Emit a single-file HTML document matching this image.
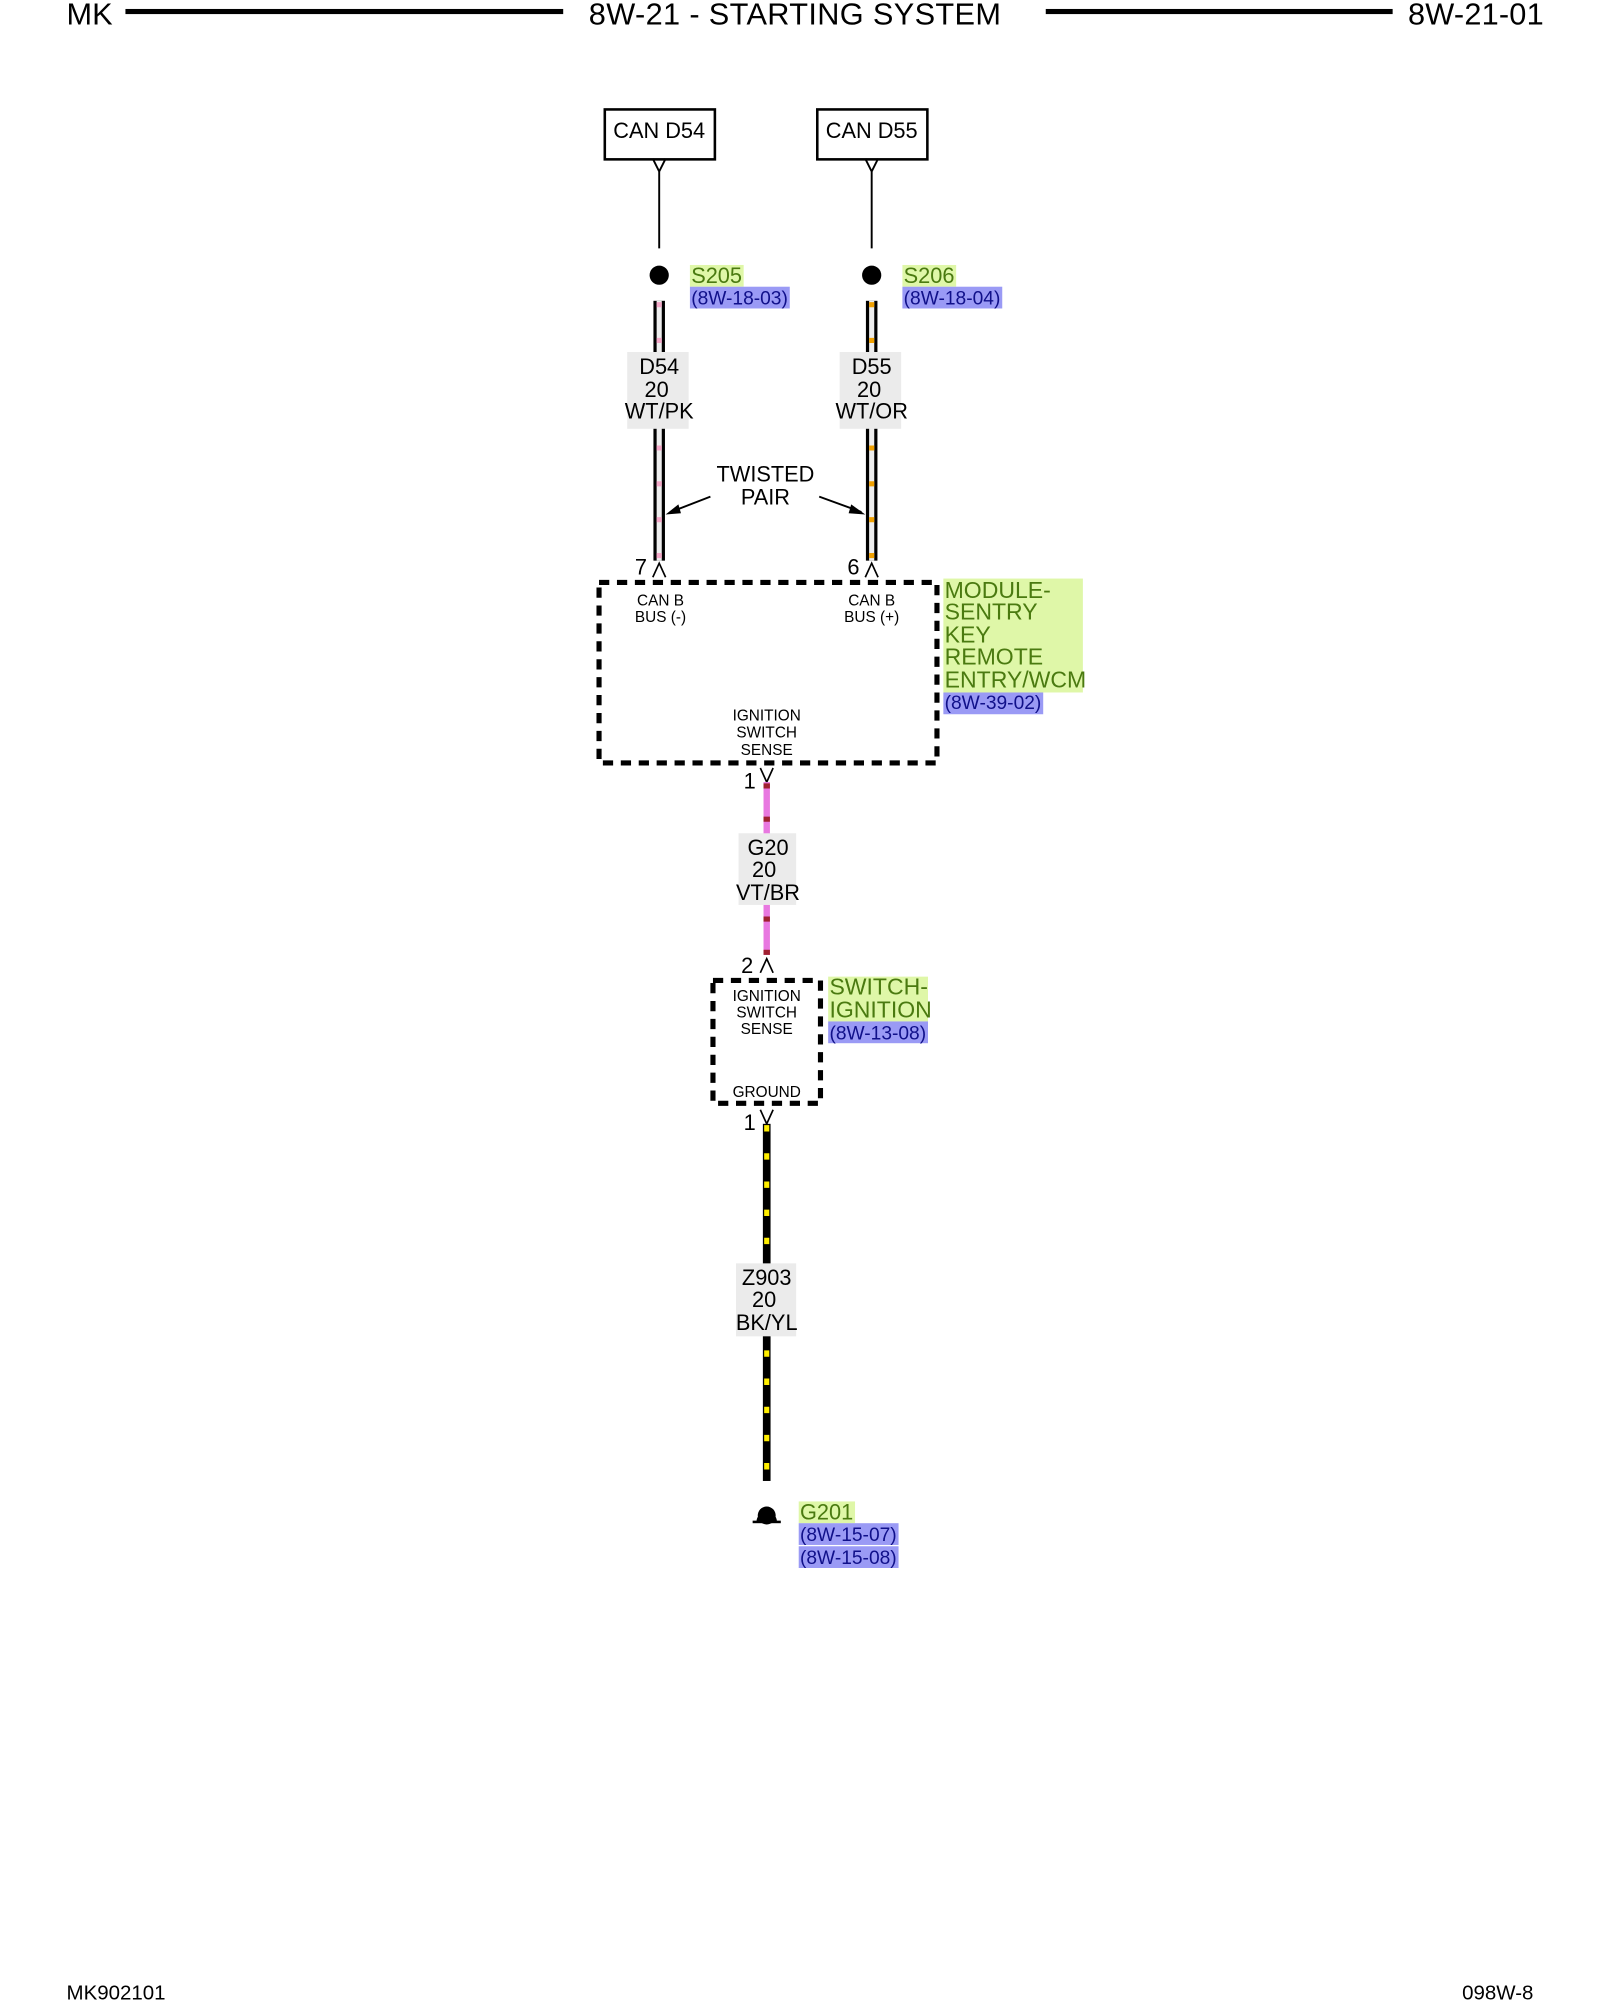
<!DOCTYPE html>
<html><head><meta charset="utf-8"><style>
html,body{margin:0;padding:0;background:#fff;}
svg{display:block;}
text{font-family:"Liberation Sans",sans-serif;}
</style></head><body>
<svg width="1600" height="2000" viewBox="0 0 1250 1562.5" xmlns="http://www.w3.org/2000/svg">
<rect width="1250" height="1562.5" fill="#fff"/>
<g font-size="24" fill="#000">
<text x="52" y="19">MK</text>
<text x="460" y="19" textLength="322">8W-21 - STARTING SYSTEM</text>
<text x="1100" y="19" textLength="106">8W-21-01</text>
</g>
<rect x="98" y="7" width="342" height="4" fill="#000"/>
<rect x="817" y="7" width="271" height="4" fill="#000"/>
<g font-size="16"><text x="52" y="1562">MK902101</text><text x="1198" y="1562" text-anchor="end">098W-8</text></g>

<rect x="472.5" y="85.5" width="86" height="39" fill="#fff" stroke="#000" stroke-width="2"/>
<text x="515" y="108" font-size="17" text-anchor="middle">CAN D54</text>
<rect x="638.5" y="85.5" width="86" height="39" fill="#fff" stroke="#000" stroke-width="2"/>
<text x="681" y="108" font-size="17" text-anchor="middle">CAN D55</text>
<g stroke="#000" stroke-width="1.5" fill="none">
<path d="M510 124 L515 134 L520 124 M515 134 V194"/>
<path d="M676 124 L681 134 L686 124 M681 134 V194"/>
</g>
<circle cx="515" cy="215" r="7.5" fill="#000"/>
<circle cx="681" cy="215" r="7.5" fill="#000"/>
<rect x="539" y="207" width="42" height="17" fill="#dff7a8"/>
<text x="540" y="221" font-size="17" fill="#4a7a10">S205</text>
<rect x="539" y="224" width="78" height="17" fill="#9a9af5"/>
<text x="540" y="238" font-size="15" fill="#10108a">(8W-18-03)</text>
<rect x="705" y="207" width="42" height="17" fill="#dff7a8"/>
<text x="706" y="221" font-size="17" fill="#4a7a10">S206</text>
<rect x="705" y="224" width="78" height="17" fill="#9a9af5"/>
<text x="706" y="238" font-size="15" fill="#10108a">(8W-18-04)</text>

<rect x="510.5" y="235" width="9" height="203" fill="#000"/>
<rect x="513" y="235" width="4" height="203" fill="#eee"/>
<line x1="515" y1="236" x2="515" y2="438" stroke="#f4a8c8" stroke-width="4" stroke-dasharray="4,24"/>
<rect x="676.5" y="235" width="9" height="203" fill="#000"/>
<rect x="679" y="235" width="4" height="203" fill="#eee"/>
<line x1="681" y1="236" x2="681" y2="438" stroke="#f0a000" stroke-width="4" stroke-dasharray="4,24"/>

<rect x="490" y="275" width="48" height="60" fill="#ebebeb"/>
<g font-size="17" text-anchor="middle">
<text x="515" y="292">D54</text><text x="513" y="310">20</text><text x="515" y="327">WT/PK</text>
</g>
<rect x="656" y="275" width="48" height="60" fill="#ebebeb"/>
<g font-size="17" text-anchor="middle">
<text x="681" y="292">D55</text><text x="679" y="310">20</text><text x="681" y="327">WT/OR</text>
</g>

<g font-size="17" text-anchor="middle"><text x="598" y="376">TWISTED</text><text x="598" y="394">PAIR</text></g>
<g stroke="#000" stroke-width="1.5">
<line x1="555" y1="388" x2="524" y2="400"/>
<line x1="640" y1="388" x2="673" y2="400"/>
</g>
<polygon points="520,402 530,394 532,401" fill="#000"/>
<polygon points="676,402 665,394 663,401" fill="#000"/>

<g font-size="17"><text x="496" y="449">7</text><text x="662" y="449">6</text></g>
<g stroke="#000" stroke-width="1.3" fill="none">
<path d="M510 451 L515 440 L520 451"/>
<path d="M676 451 L681 440 L686 451"/>
</g>

<rect x="468" y="455" width="264" height="141" fill="none" stroke="#000" stroke-width="4" stroke-dasharray="8,6"/>
<g font-size="12" text-anchor="middle">
<text x="516" y="473">CAN B</text><text x="516" y="486">BUS (-)</text>
<text x="681" y="473">CAN B</text><text x="681" y="486">BUS (+)</text>
<text x="599" y="563">IGNITION</text><text x="599" y="576">SWITCH</text><text x="599" y="590">SENSE</text>
</g>
<rect x="737" y="452" width="109" height="89" fill="#dff7a8"/>
<g font-size="18" fill="#4a7a10">
<text x="738" y="467">MODULE-</text><text x="738" y="484">SENTRY</text><text x="738" y="502">KEY</text><text x="738" y="519">REMOTE</text><text x="738" y="537">ENTRY/WCM</text>
</g>
<rect x="737" y="541" width="78" height="17" fill="#9a9af5"/>
<text x="738" y="554" font-size="15" fill="#10108a">(8W-39-02)</text>

<text x="581" y="616" font-size="17">1</text>
<path d="M594 600 L599 611 L604 600" stroke="#000" stroke-width="1.3" fill="none"/>
<rect x="596.5" y="611" width="5" height="135" fill="#e878e0"/>
<line x1="599" y1="612" x2="599" y2="746" stroke="#a02030" stroke-width="5" stroke-dasharray="4,22"/>
<rect x="577" y="651" width="45" height="56" fill="#ebebeb"/>
<g font-size="17" text-anchor="middle">
<text x="600" y="668">G20</text><text x="597" y="685">20</text><text x="600" y="703">VT/BR</text>
</g>

<text x="579" y="760" font-size="17">2</text>
<path d="M594 760 L599 749 L604 760" stroke="#000" stroke-width="1.3" fill="none"/>

<rect x="557" y="766" width="84" height="96" fill="none" stroke="#000" stroke-width="4" stroke-dasharray="8,6"/>
<g font-size="12" text-anchor="middle">
<text x="599" y="782">IGNITION</text><text x="599" y="795">SWITCH</text><text x="599" y="808">SENSE</text>
<text x="599" y="857">GROUND</text>
</g>
<rect x="647" y="763" width="78" height="35" fill="#dff7a8"/>
<g font-size="18" fill="#4a7a10"><text x="648" y="777">SWITCH-</text><text x="648" y="795">IGNITION</text></g>
<rect x="647" y="798" width="78" height="17" fill="#9a9af5"/>
<text x="648" y="812" font-size="15" fill="#10108a">(8W-13-08)</text>

<text x="581" y="883" font-size="17">1</text>
<path d="M594 867 L599 878 L604 867" stroke="#000" stroke-width="1.3" fill="none"/>
<rect x="596" y="878" width="6" height="279" fill="#000"/>
<line x1="599" y1="879" x2="599" y2="1157" stroke="#ffee00" stroke-width="4" stroke-dasharray="5,17"/>
<rect x="575" y="987" width="47" height="57" fill="#ebebeb"/>
<g font-size="17" text-anchor="middle">
<text x="599" y="1004">Z903</text><text x="597" y="1021">20</text><text x="599" y="1039">BK/YL</text>
</g>

<path d="M591 1189 C591 1179 607 1179 607 1189 Z" fill="#000"/>
<circle cx="599" cy="1184" r="7" fill="#000"/>
<rect x="588" y="1188" width="22" height="2" fill="#000"/>
<rect x="624" y="1173" width="44" height="17" fill="#dff7a8"/>
<text x="625" y="1187" font-size="17" fill="#4a7a10">G201</text>
<rect x="624" y="1190" width="78" height="17" fill="#9a9af5"/>
<text x="625" y="1204" font-size="15" fill="#10108a">(8W-15-07)</text>
<rect x="624" y="1208" width="78" height="17" fill="#9a9af5"/>
<text x="625" y="1222" font-size="15" fill="#10108a">(8W-15-08)</text>
</svg>
</body></html>
